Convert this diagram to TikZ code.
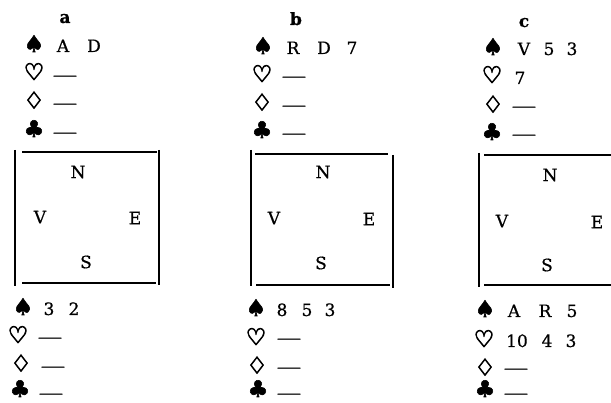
\documentclass[tikz,border=0pt]{standalone}
\usepackage{fontspec}
\setmainfont[FakeBold=0.7]{DejaVu Serif}
\newfontfamily\suitfont[FakeBold=2.5]{DejaVu Sans}
\newfontfamily\osuitfont[FakeBold=4]{DejaVu Sans}
\tikzset{
  card/.style={font=\fontsize{17}{19}\selectfont, inner sep=0pt, anchor=base},
  captxt/.style={font=\fontsize{17}{19}\selectfont, inner sep=0pt, anchor=center},
  suit/.style={font=\suitfont\fontsize{23}{25}\selectfont, inner sep=0pt, anchor=base},
  osuit/.style={font=\osuitfont\fontsize{23}{25}\selectfont, inner sep=0pt, anchor=base},
  hd/.style={font=\fontsize{17}{19}\selectfont\bfseries, inner sep=0pt, anchor=base},
  dsh/.style={font=\fontsize{17}{19}\selectfont, inner sep=0pt, anchor=base},
  hline/.style={line width=1.3pt},
  vline/.style={line width=1.7pt}
}
\begin{document}
\begin{tikzpicture}[x=1pt,y=-1pt]
\useasboundingbox (0,0) rectangle (611,403);
% headers
\node[hd] (ha) at (65,23) {a};
\node[hd] (hb) at (296,25) {b};
\node[hd] (hc) at (524,27) {c};
% filled suits
\foreach \x/\y/\s/\n in {
 34/52/♠/as1, 34/137/♣/ac1,
 23/315/♠/as2, 20/397/♣/ac2,
 263/54/♠/bs1, 262/138/♣/bc1,
 256/316/♠/bs2, 258/397/♣/bc2,
 493/55/♠/cs1, 492/140/♣/cc1,
 485/317/♠/cs2, 485/397/♣/cc2}
 {\node[suit] (\n) at (\x,\y) {\s};}
% outline suits
\foreach \x/\y/\s/\n in {
 34/80/♡/ah1, 34/108.5/♢/ad1,
 18/343/♡/ah2, 21/371.5/♢/ad2,
 262/82/♡/bh1, 262/110.5/♢/bd1,
 256/345/♡/bh2, 257/373.5/♢/bd2,
 492/83/♡/ch1, 493/112.5/♢/cd1,
 484/347/♡/ch2, 485/375.5/♢/cd2}
 {\node[osuit] (\n) at (\x,\y) {\s};}
% cards
\foreach \x/\y/\t/\n in {
 63/52/A/aA, 94/52/D/aD,
 49/315/3/a3, 74/315/2/a2,
 293/54/R/bR, 324/54/D/bD, 352/54/7/b7,
 282/316/8/b8, 307/316/5/b5, 330/316/3/b3,
 524/55/V/cV, 549/55/5/c5, 572/55/3/c3,
 520/84/7/c7,
 514/317/A/cA, 545/317/R/cR, 572/317/5/c5b,
 517/347/10/c10, 547/347/4/c4, 571/347/3/c3b}
 {\node[card] (\n) at (\x,\y) {\t};}
% dashes
\foreach \x/\y/\n in {
 65/80.7/ahd1, 65/108.7/add1, 65/137.7/acd1,
 50/342.7/ahd2, 53/371.7/add2, 51/398.7/acd2,
 294/81.7/bhd1, 294/110.7/bdd1, 294/138.7/bcd1,
 289/343.7/bhd2, 289/372.7/bdd2, 289/398.7/bcd2,
 524/111.7/cdd1, 524/139.7/ccd1,
 516/373.7/cdd2, 516/398.7/ccd2}
 {\node[dsh] (\n) at (\x,\y) {\scalebox{1.45}[1]{—}};}
% boxes
\draw[vline] (15,150) -- (15,286);
\draw[hline] (22,152) -- (157,152);
\draw[vline] (159,150) -- (159,285);
\draw[hline] (22,283) -- (156,283);
\node[captxt] (aN) at (78,172) {N};
\node[captxt] (aV) at (40,217) {V};
\node[captxt] (aE) at (135,218) {E};
\node[captxt] (aS) at (86,262) {S};
\draw[vline] (251,150) -- (251,286);
\draw[hline] (255,154) -- (388,154);
\draw[vline] (393,155) -- (393,288);
\draw[hline] (256,285) -- (390,285);
\node[captxt] (bN) at (323,172) {N};
\node[captxt] (bV) at (274,218) {V};
\node[captxt] (bE) at (369,219) {E};
\node[captxt] (bS) at (321,263) {S};
\draw[vline] (479,153) -- (479,287);
\draw[hline] (484,155) -- (611,155);
\draw[hline] (484,285) -- (611,285);
\node[captxt] (cN) at (550,175) {N};
\node[captxt] (cV) at (502,221) {V};
\node[captxt] (cE) at (597,222) {E};
\node[captxt] (cS) at (547,265) {S};
\end{tikzpicture}
\end{document}
